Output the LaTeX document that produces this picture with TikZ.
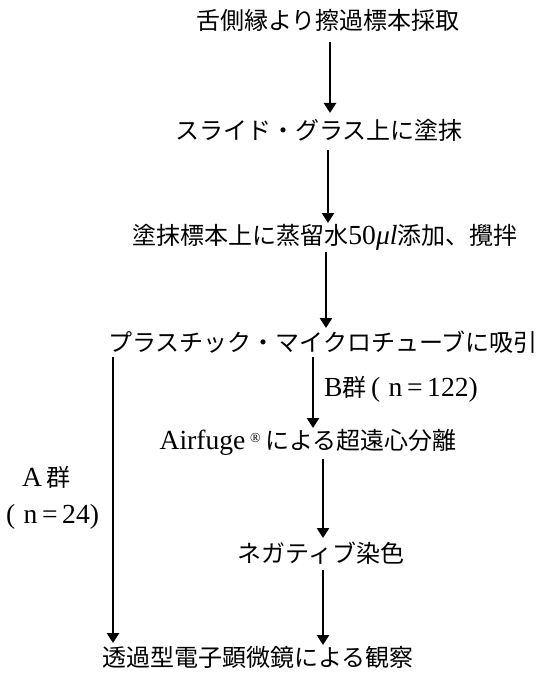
\documentclass[tikz,border=0pt]{standalone}
\usepackage{fontspec}
\setmainfont{Liberation Serif}[Scale=1.15]
\newfontfamily\jp{Noto Sans CJK JP}
\usetikzlibrary{arrows.meta}
\tikzset{
  lbl/.style={inner sep=0pt, font=\fontsize{24}{27}\selectfont},
  arr/.style={line width=2.5pt, -{Triangle[width=12pt,length=10pt]}},
}
\begin{document}
\begin{tikzpicture}[x=1pt,y=-1pt]
\useasboundingbox[fill=white] (0,0) rectangle (541,674);
\node[lbl] (n1) at (328,20) {\jp 舌側縁より擦過標本採取};
\node[lbl] (n2) at (319,130) {\jp スライド・グラス上に塗抹};
\node[lbl] (n3) at (325,237) {{\jp 塗抹標本上に蒸留水}50{\itshape μl}{\jp 添加、攪拌}};
\node[lbl] (n4) at (323,342) {\jp プラスチック・マイクロチューブに吸引};
\node[lbl] (n5) at (308,442) {Airfuge\,\raisebox{0.5ex}{\fontsize{12}{12}\selectfont ®}\,{\jp による超遠心分離}};
\node[lbl] (n6) at (321,553) {\jp ネガティブ染色};
\node[lbl] (n7) at (258,657) {\jp 透過型電子顕微鏡による観察};
\node[lbl, anchor=west] (lb) at (324,389) {B{\jp 群}\,({\kern0.3em}n\,=\,122)};
\node[lbl, anchor=west] (la1) at (22,477) {A\,{\jp 群}};
\node[lbl, anchor=west] (la2) at (6,517) {({\kern0.3em}n\,=\,24)};
\coordinate (a1s) at (330,42);  \coordinate (a1e) at (330,113);
\coordinate (a2s) at (328,150); \coordinate (a2e) at (328,223);
\coordinate (a3s) at (326,252); \coordinate (a3e) at (326,328);
\coordinate (bls) at (113,357); \coordinate (ble) at (113,643);
\coordinate (brs) at (313,357); \coordinate (bre) at (313,428);
\coordinate (a5s) at (323,459); \coordinate (a5e) at (323,538);
\coordinate (a6s) at (323,570); \coordinate (a6e) at (323,645);
\draw[arr] (a1s) -- (a1e);
\draw[arr] (a2s) -- (a2e);
\draw[arr] (a3s) -- (a3e);
\draw[arr] (bls) -- (ble);
\draw[arr] (brs) -- (bre);
\draw[arr] (a5s) -- (a5e);
\draw[arr] (a6s) -- (a6e);
\end{tikzpicture}
\end{document}
